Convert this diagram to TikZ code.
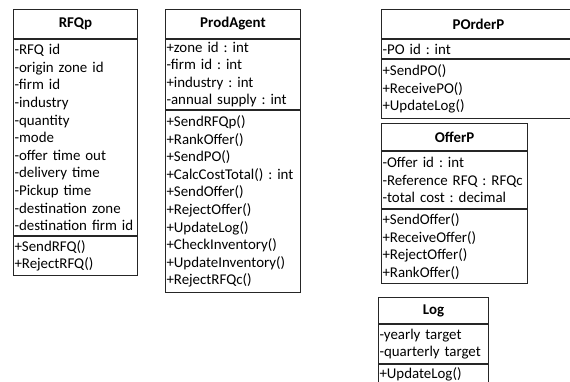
\documentclass[tikz,border=0pt]{standalone}
\usepackage{fontspec}
\setmainfont{Carlito}
\usetikzlibrary{positioning}
\newcommand{\umlfont}{\fontsize{14.9}{17.6}\selectfont}
\frenchspacing

\begin{document}
\begin{tikzpicture}[
    x=1pt, y=-1pt,
    part/.style={draw=black!85, line width=1pt, inner xsep=1pt, inner ysep=0pt, anchor=north west, font=\umlfont},
    head/.style={part, font=\umlfont\bfseries, align=center},
    body/.style={part, align=left},
]
\useasboundingbox (0,0) rectangle (570,381);
% RFQp
\node[head, text width=122pt, minimum height=29pt] (rfqTitle) at (13,9) {RFQp};
\node[body, text width=122pt, minimum height=196pt, below=0pt of rfqTitle] (rfqAttr)
  {-RFQ id\\-origin zone id\\-firm id\\-industry\\-quantity\\-mode\\-offer time out\\-delivery time\\-Pickup time\\-destination zone\\-destination firm id};
\node[body, text width=122pt, minimum height=39pt, below=0pt of rfqAttr] (rfqOps)
  {+SendRFQ()\\+RejectRFQ()};
% ProdAgent
\node[head, text width=133pt, minimum height=29pt] (prodTitle) at (165,9) {ProdAgent};
\node[body, text width=133pt, minimum height=70pt, below=0pt of prodTitle] (prodAttr)
  {+zone id : int\\-firm id : int\\+industry : int\\-annual supply : int};
\node[body, text width=133pt, minimum height=182pt, below=0pt of prodAttr] (prodOps)
  {+SendRFQp()\\+RankOffer()\\+SendPO()\\+CalcCostTotal() : int\\+SendOffer()\\+RejectOffer()\\+UpdateLog()\\+CheckInventory()\\+UpdateInventory()\\+RejectRFQc()};
% POrderP
\node[head, text width=192pt, minimum height=29pt] (poTitle) at (381,9) {POrderP};
\node[body, text width=192pt, minimum height=19pt, below=0pt of poTitle] (poAttr)
  {-PO id : int};
\node[body, text width=192pt, minimum height=59pt, below=0pt of poAttr] (poOps)
  {+SendPO()\\+ReceivePO()\\+UpdateLog()};
% OfferP
\node[head, text width=144pt, minimum height=27pt] (offerTitle) at (381,123) {OfferP};
\node[body, text width=144pt, minimum height=57pt, below=0pt of offerTitle] (offerAttr)
  {-Offer id : int\\-Reference RFQ : RFQc\\-total cost : decimal};
\node[body, text width=144pt, minimum height=74pt, below=0pt of offerAttr] (offerOps)
  {+SendOffer()\\+ReceiveOffer()\\+RejectOffer()\\+RankOffer()};
% Log
\node[head, text width=108pt, minimum height=26pt] (logTitle) at (378,297) {Log};
\node[body, text width=108pt, minimum height=39pt, below=0pt of logTitle] (logAttr)
  {-yearly target\\-quarterly target};
\node[body, text width=108pt, minimum height=19pt, below=0pt of logAttr] (logOps)
  {+UpdateLog()};
\end{tikzpicture}
\end{document}
